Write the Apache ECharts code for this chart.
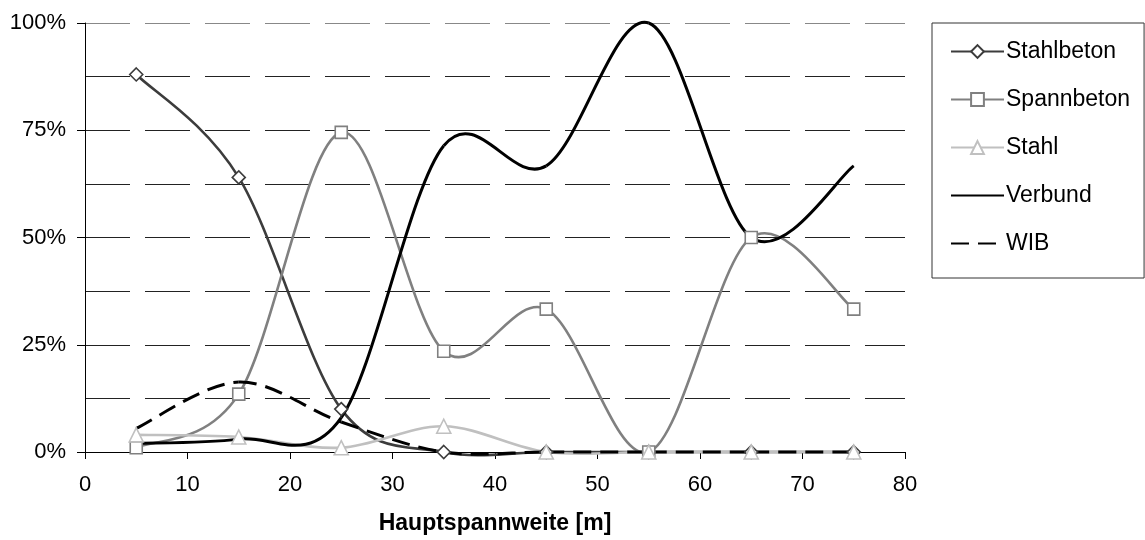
<!DOCTYPE html>
<html>
<head>
<meta charset="utf-8">
<title>Hauptspannweite</title>
<script src="https://cdn.jsdelivr.net/npm/echarts@6/dist/echarts.min.js"></script>
<style>
  html, body { margin: 0; padding: 0; background: #fff; }
  #chart { width: 1145px; height: 540px; }
</style>
</head>
<body>
<div id="chart"></div>
<script>
// Span classes (metres)
const spans = [5, 15, 25, 35, 45, 55, 65, 75];

// Share per construction type, percent
const stahlbeton = [88, 64, 10, 0, 0, 0, 0, 0];
const spannbeton = [1, 13.5, 74.5, 23.5, 33.3, 0, 50, 33.3];
const stahl      = [4, 3.5, 1, 6, 0, 0, 0, 0];
const verbund    = [2, 3, 8, 71.4, 66.7, 100, 50, 66.7];
const wib        = [5.5, 16.3, 7, 0, 0, 0, 0, 0];

const seriesNames = ['Stahlbeton', 'Spannbeton', 'Stahl', 'Verbund', 'WIB'];
const yTickLabels = ['0%', '25%', '50%', '75%', '100%'];

const FONT = '"Liberation Sans", Arial, sans-serif';

const styles = {
  Stahlbeton: { color: '#3c3c3c', width: 2.6, symbol: 'diamond', dash: null },
  Spannbeton: { color: '#808080', width: 2.6, symbol: 'rect', dash: null },
  Stahl:      { color: '#c0c0c0', width: 2.6, symbol: 'triangle', dash: null },
  Verbund:    { color: '#000000', width: 3, symbol: 'none', dash: null },
  WIB:        { color: '#000000', width: 3, symbol: 'none', dash: [18, 9] }
};

const valuesByName = {
  Stahlbeton: stahlbeton,
  Spannbeton: spannbeton,
  Stahl: stahl,
  Verbund: verbund,
  WIB: wib
};

function pairs(values) {
  return spans.map((x, i) => [x, values[i]]);
}

// Smoothed curve: one cubic Bezier per segment, control points from the
// neighbouring points (Catmull-Rom, tangent = (next - prev) / 6).
function curveSeries(name) {
  const st = styles[name];
  return {
    name: name + ' (Kurve)',
    type: 'custom',
    data: pairs(valuesByName[name]),
    z: 2,
    silent: true,
    animation: false,
    clip: false,
    encode: { x: 0, y: 1 },
    renderItem: function (params, api) {
      const i = params.dataIndexInside;
      const n = params.dataInsideLength;
      if (i >= n - 1) return null;
      const pt = function (j) {
        const k = Math.max(0, Math.min(n - 1, j));
        return api.coord([api.value(0, k), api.value(1, k)]);
      };
      const p0 = pt(i - 1), p1 = pt(i), p2 = pt(i + 1), p3 = pt(i + 2);
      return {
        type: 'bezierCurve',
        shape: {
          x1: p1[0], y1: p1[1],
          cpx1: p1[0] + (p2[0] - p0[0]) / 6,
          cpy1: p1[1] + (p2[1] - p0[1]) / 6,
          cpx2: p2[0] - (p3[0] - p1[0]) / 6,
          cpy2: p2[1] - (p3[1] - p1[1]) / 6,
          x2: p2[0], y2: p2[1]
        },
        style: {
          fill: null,
          stroke: st.color,
          lineWidth: st.width,
          lineDash: st.dash || null,
          lineCap: 'butt',
          lineJoin: 'round'
        }
      };
    }
  };
}

// Marker series (also supplies the legend entries); its own straight line is hidden.
function markerSeries(name) {
  const st = styles[name];
  return {
    name: name,
    type: 'line',
    data: pairs(valuesByName[name]),
    z: 3,
    symbol: st.symbol,
    symbolSize: st.symbol === 'triangle' ? 14 : (st.symbol === 'diamond' ? 13 : 12),
    showSymbol: st.symbol !== 'none',
    lineStyle: { color: st.color, width: st.width, type: st.dash || 'solid', opacity: 0 },
    itemStyle: { color: '#fff', borderColor: st.color, borderWidth: 1.6 },
    emphasis: { disabled: true },
    silent: true,
    animation: false
  };
}

const legendData = seriesNames.map(function (name) {
  const item = { name: name, lineStyle: { opacity: 1 } };
  if (styles[name].symbol === 'none') item.itemStyle = { opacity: 0 };
  return item;
});

const chart = echarts.init(document.getElementById('chart'), null, { renderer: 'canvas' });

chart.setOption({
  backgroundColor: '#fff',
  textStyle: { fontFamily: FONT },
  grid: { left: 85, right: 240, top: 23, bottom: 85, containLabel: false },
  legend: {
    orient: 'vertical',
    left: 932,
    top: 23,
    padding: [17, 14, 23, 18],
    itemGap: 25,
    itemWidth: 53,
    itemHeight: 16,
    borderColor: '#333',
    borderWidth: 1,
    selectedMode: false,
    textStyle: { fontFamily: FONT, fontSize: 23, color: '#000', lineHeight: 23, padding: [0, 0, 0, -3] },
    data: legendData
  },
  xAxis: {
    type: 'value',
    min: 0,
    max: 80,
    interval: 10,
    name: 'Hauptspannweite [m]',
    nameLocation: 'middle',
    nameGap: 60,
    nameTextStyle: { fontFamily: FONT, fontSize: 23, fontWeight: 'bold', color: '#000' },
    axisLine: { show: true, onZero: false, lineStyle: { color: '#000', width: 1 } },
    axisTick: { show: true, inside: false, length: 7, lineStyle: { color: '#000' } },
    axisLabel: { fontFamily: FONT, fontSize: 22, color: '#000', margin: 22 },
    splitLine: { show: false }
  },
  yAxis: {
    type: 'value',
    min: 0,
    max: 100,
    interval: 25,
    axisLine: { show: true, lineStyle: { color: '#000', width: 1 } },
    axisTick: { show: true, inside: false, length: 8, lineStyle: { color: '#000' } },
    axisLabel: {
      fontFamily: FONT, fontSize: 22, color: '#000', margin: 19,
      formatter: function (v) { return yTickLabels[Math.round(v / 25)]; }
    },
    splitLine: {
      show: true,
      lineStyle: { color: ['#000', '#222', '#222', '#222', '#888'], width: 1, type: [45, 15] }
    },
    minorTick: { show: false, splitNumber: 2 },
    minorSplitLine: { show: true, lineStyle: { color: '#222', width: 1, type: [45, 15] } }
  },
  series: seriesNames.map(curveSeries).concat(seriesNames.map(markerSeries))
});
</script>
</body>
</html>
